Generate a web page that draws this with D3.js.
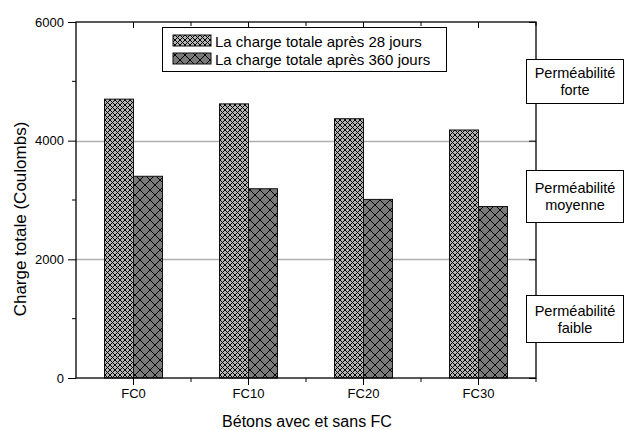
<!DOCTYPE html>
<html>
<head>
<meta charset="utf-8">
<script src="https://cdn.jsdelivr.net/npm/d3@7"></script>
<style>
  html, body { margin: 0; padding: 0; background: #fff; }
  text { font-family: "Liberation Sans", Arial, sans-serif; fill: #000; }
</style>
</head>
<body>
<div id="chart"></div>
<script>
// Données
const categories = ["FC0", "FC10", "FC20", "FC30"];
const charge28 = [4700, 4620, 4370, 4180];
const charge360 = [3400, 3190, 3010, 2890];
const seriesNames = ["La charge totale après 28 jours", "La charge totale après 360 jours"];
const yTicks = [0, 2000, 4000, 6000];
const yMinorTicks = [1000, 3000, 5000];
const gridValues = [2000, 4000];
const zones = [
    {lines: ["Perméabilité", "forte"], y: 59, h: 44},
    {lines: ["Perméabilité", "moyenne"], y: 170, h: 52},
    {lines: ["Perméabilité", "faible"], y: 295, h: 47}
];

const width = 625;
const height = 430;
const plotLeft = 76, plotRight = 536, plotTop = 22, plotBottom = 378;

const svg = d3.select('#chart').append('svg')
    .attr('width', width)
    .attr('height', height);

// Motifs hachurés
const defs = svg.append('defs');
function addPattern(id, p, bg, sw) {
    const pat = defs.append('pattern')
        .attr('id', id)
        .attr('patternUnits', 'userSpaceOnUse')
        .attr('width', p)
        .attr('height', p);
    pat.append('rect').attr('width', p).attr('height', p).attr('fill', bg);
    pat.append('path')
        .attr('d', `M0,0L${p},${p}M${p},0L0,${p}M${-1},1L1,${-1}M${p - 1},${p + 1}L${p + 1},${p - 1}`)
        .attr('stroke', '#000')
        .attr('stroke-width', sw);
}
addPattern('hatch28', 5, '#b4b4b4', 1);
addPattern('hatch360', 10, '#7a7a7a', 1);
const fills = ['url(#hatch28)', 'url(#hatch360)'];

// Echelles
const xScale = d3.scaleBand()
    .domain(categories)
    .range([plotLeft, plotRight])
    .padding(0);

const xSeries = d3.scaleBand()
    .domain([0, 1])
    .range([-29, 29])
    .padding(0);

const yScale = d3.scaleLinear()
    .domain([0, 6000])
    .range([plotBottom, plotTop]);

// Lignes de grille
svg.selectAll('.grid')
    .data(gridValues)
    .enter()
    .append('line')
    .attr('x1', plotLeft)
    .attr('x2', plotRight)
    .attr('y1', d => Math.round(yScale(d)) + 0.5)
    .attr('y2', d => Math.round(yScale(d)) + 0.5)
    .attr('stroke', '#b0b0b0')
    .attr('stroke-width', 1.4);

// Barres
const series = [charge28, charge360];
series.forEach((values, s) => {
    svg.selectAll('.bar' + s)
        .data(categories)
        .enter()
        .append('rect')
        .attr('x', (d) => xScale(d) + xScale.bandwidth() / 2 + xSeries(s))
        .attr('y', (d, i) => yScale(values[i]))
        .attr('width', xSeries.bandwidth())
        .attr('height', (d, i) => yScale(0) - yScale(values[i]))
        .attr('fill', fills[s])
        .attr('stroke', '#111')
        .attr('stroke-width', 1);
});

// Axes
const minorX = categories.slice(1).map(c => xScale(c)).concat([plotRight]);

svg.append('g')
    .attr('transform', `translate(0,${plotBottom})`)
    .call(d3.axisBottom(xScale).tickSize(7).tickPadding(4))
    .call(g => g.select('.domain').remove());

svg.append('g')
    .attr('transform', `translate(0,${plotTop})`)
    .call(d3.axisBottom(xScale).tickSize(6).tickFormat(''))
    .call(g => g.select('.domain').remove());

svg.append('g')
    .attr('transform', `translate(${plotLeft},0)`)
    .call(d3.axisLeft(yScale).tickValues(yTicks).tickSize(8).tickPadding(4).tickFormat(d3.format('d')))
    .call(g => g.select('.domain').remove());

svg.append('g')
    .attr('transform', `translate(${plotRight},0)`)
    .call(d3.axisLeft(yScale).tickValues(yTicks).tickSize(0).tickFormat(''))
    .call(g => g.select('.domain').remove())
    .call(g => g.selectAll('.tick line').attr('x2', -7));

// petites graduations
svg.selectAll('.minor-y')
    .data(yMinorTicks)
    .enter()
    .append('line')
    .attr('x1', plotLeft - 4).attr('x2', plotLeft)
    .attr('y1', d => yScale(d)).attr('y2', d => yScale(d))
    .attr('stroke', '#000');

svg.selectAll('.minor-xb')
    .data(minorX)
    .enter()
    .append('line')
    .attr('x1', d => d).attr('x2', d => d)
    .attr('y1', plotBottom).attr('y2', plotBottom + 4)
    .attr('stroke', '#000');

svg.selectAll('.minor-xt')
    .data(minorX)
    .enter()
    .append('line')
    .attr('x1', d => d).attr('x2', d => d)
    .attr('y1', plotTop).attr('y2', plotTop + 4)
    .attr('stroke', '#000');

svg.selectAll('.tick text')
    .style('font-size', '13px')
    .style('fill', '#000');
svg.selectAll('.tick line').attr('stroke', '#000');

// Cadre
svg.append('rect')
    .attr('x', plotLeft)
    .attr('y', plotTop)
    .attr('width', plotRight - plotLeft)
    .attr('height', plotBottom - plotTop)
    .attr('fill', 'none')
    .attr('stroke', '#000')
    .attr('stroke-width', 1.3);

// Titres des axes
svg.append('text')
    .attr('x', 307)
    .attr('y', 427)
    .attr('text-anchor', 'middle')
    .style('font-size', '16px')
    .text('Bétons avec et sans FC');

svg.append('text')
    .attr('transform', 'translate(26,219) rotate(-90)')
    .attr('text-anchor', 'middle')
    .style('font-size', '17px')
    .text('Charge totale (Coulombs)');

// Légende
const legend = svg.append('g');
legend.append('rect')
    .attr('x', 162.5).attr('y', 27.5)
    .attr('width', 284).attr('height', 44)
    .attr('fill', '#fff')
    .attr('stroke', '#000');

seriesNames.forEach((name, s) => {
    legend.append('rect')
        .attr('x', 173).attr('y', 35 + s * 18)
        .attr('width', 38).attr('height', 11)
        .attr('fill', fills[s])
        .attr('stroke', '#111');
    legend.append('text')
        .attr('x', 215).attr('y', 46.5 + s * 18)
        .style('font-size', '15px')
        .text(name);
});

// Zones de perméabilité
zones.forEach(z => {
    const g = svg.append('g');
    g.append('rect')
        .attr('x', 526.5).attr('y', z.y + 0.5)
        .attr('width', 97).attr('height', z.h)
        .attr('fill', '#fff')
        .attr('stroke', '#000');
    const cy = z.y + z.h / 2;
    z.lines.forEach((t, i) => {
        g.append('text')
            .attr('x', 575)
            .attr('y', cy - 3 + i * 17)
            .attr('text-anchor', 'middle')
            .style('font-size', '14.5px')
            .text(t);
    });
});
</script>
</body>
</html>
